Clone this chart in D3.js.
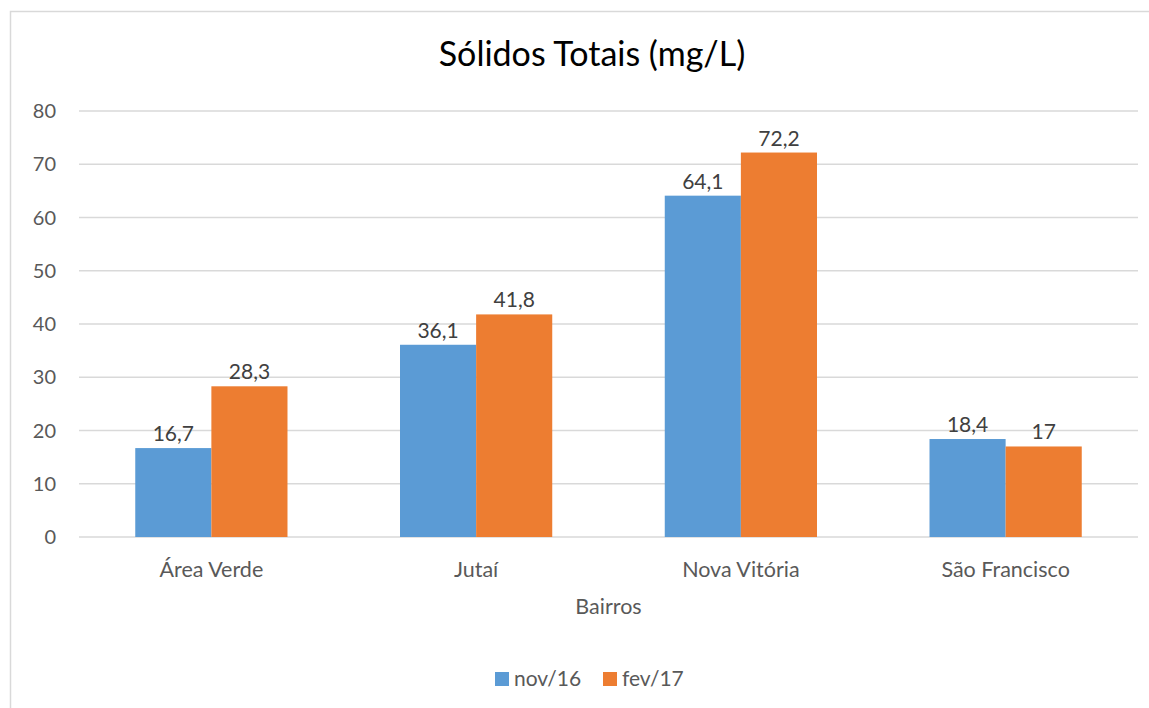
<!DOCTYPE html>
<html>
<head>
<meta charset="utf-8">
<script src="https://cdn.jsdelivr.net/npm/d3@7"></script>
<style>
  body { margin: 0; background: #fff; }
  svg { display: block; font-family: Lato, "Open Sans", sans-serif; }
</style>
</head>
<body>
<svg id="chart" width="1149" height="708"></svg>
<script>
// Values
const bairros = ['Área Verde', 'Jutaí', 'Nova Vitória', 'São Francisco'];
const series = ['nov/16', 'fev/17'];
const nov16 = [16.7, 36.1, 64.1, 18.4];
const fev17 = [28.3, 41.8, 72.2, 17];
const yTicks = [0, 10, 20, 30, 40, 50, 60, 70, 80];
const colors = ['#5b9bd5', '#ed7d31'];

const margin = { top: 111, right: 11, bottom: 171, left: 79 };
const width = 1149 - margin.left - margin.right;
const height = 708 - margin.top - margin.bottom;

const svg = d3.select('#chart');

// chart frame (runs off the right and bottom of the picture)
svg.append('rect')
  .attr('x', 10.5).attr('y', 11.5)
  .attr('width', 1164).attr('height', 720)
  .attr('fill', 'none')
  .attr('stroke', '#d9d9d9')
  .attr('stroke-width', 1.5);

const g = svg.append('g').attr('transform', `translate(${margin.left},${margin.top})`);

const x = d3.scaleBand().domain(bairros).range([0, width]).padding(0);
const groupW = x.bandwidth() * 0.575;
const xInner = d3.scaleBand().domain(series).range([0, groupW]).padding(0);
const y = d3.scaleLinear().domain([0, 80]).range([height, 0]);

// gridlines
g.selectAll('.grid').data(yTicks).enter()
  .append('line')
  .attr('x1', 0).attr('x2', width)
  .attr('y1', d => y(d)).attr('y2', d => y(d))
  .attr('stroke', '#d9d9d9').attr('stroke-width', 1.3);

// y tick labels
g.selectAll('.ytick').data(yTicks).enter()
  .append('text')
  .attr('x', -23).attr('y', d => y(d) + 7)
  .attr('text-anchor', 'end')
  .attr('fill', '#595959')
  .style('font-size', '20px')
  .text(d => d);

const rows = bairros.map((b, i) => ({ b, vals: [nov16[i], fev17[i]] }));

const groups = g.selectAll('.grp').data(rows).enter()
  .append('g')
  .attr('transform', d => `translate(${x(d.b) + (x.bandwidth() - groupW) / 2},0)`);

groups.selectAll('rect').data(d => d.vals.map((v, k) => ({ s: series[k], v, k }))).enter()
  .append('rect')
  .attr('x', d => xInner(d.s))
  .attr('y', d => y(d.v))
  .attr('width', xInner.bandwidth())
  .attr('height', d => height - y(d.v))
  .attr('fill', d => colors[d.k]);

// data labels
groups.selectAll('.lbl').data(d => d.vals.map((v, k) => ({ s: series[k], v }))).enter()
  .append('text')
  .attr('x', d => xInner(d.s) + xInner.bandwidth() / 2)
  .attr('y', d => y(d.v) - 7)
  .attr('text-anchor', 'middle')
  .attr('fill', '#404040')
  .style('font-size', '21px')
  .text(d => String(d.v).replace('.', ','));

// x category labels
g.selectAll('.xlbl').data(bairros).enter()
  .append('text')
  .attr('x', d => x(d) + x.bandwidth() / 2)
  .attr('y', height + 40)
  .attr('text-anchor', 'middle')
  .attr('fill', '#595959')
  .style('font-size', '21.5px')
  .text(d => d);

// axis title
g.append('text')
  .attr('x', width / 2).attr('y', height + 77)
  .attr('text-anchor', 'middle')
  .attr('fill', '#595959')
  .style('font-size', '21.5px')
  .text('Bairros');

// title
svg.append('text')
  .attr('x', 592).attr('y', 66)
  .attr('text-anchor', 'middle')
  .attr('fill', '#000')
  .style('font-size', '34px')
  .text('Sólidos Totais (mg/L)');

// legend
const legendX = [495, 603];
const legend = svg.selectAll('.leg').data(series).enter()
  .append('g')
  .attr('transform', (d, i) => `translate(${legendX[i]},672)`);
legend.append('rect')
  .attr('width', 14).attr('height', 14)
  .attr('fill', (d, i) => colors[i]);
legend.append('text')
  .attr('x', 19).attr('y', 14)
  .attr('fill', '#595959')
  .style('font-size', '21px')
  .text(d => d);
</script>
</body>
</html>
